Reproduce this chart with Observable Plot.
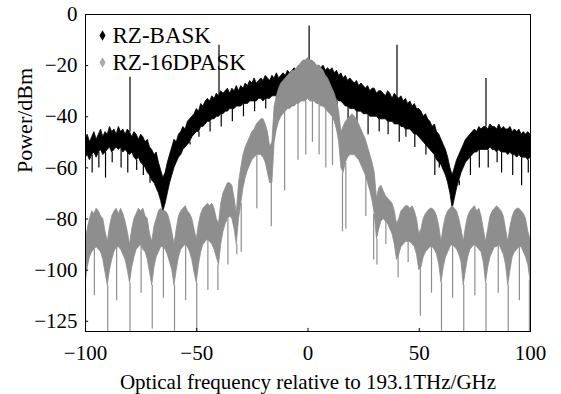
<!DOCTYPE html>
<html>
<head>
<meta charset="utf-8">
<script src="https://cdn.jsdelivr.net/npm/d3@7"></script>
<script src="https://cdn.jsdelivr.net/npm/@observablehq/plot@0.6"></script>
<style>
  html, body { margin: 0; padding: 0; background: #fff; }
  #chart { width: 561px; height: 394px; }
  #chart svg, #chart svg text { font-family: "Liberation Serif", "Times New Roman", serif !important; }
</style>
</head>
<body>
<div id="chart"></div>
<script>
// Frequency grid: -100 .. 100 GHz, 1 GHz step
const freqStart = -100;
const freqStep = 1;

// RZ-BASK dense band: top edge (dBm), f = -100..100
const baskHi = [
  -49,-47,-50,-48,-46,-49,-47,-45,-48,-46,
  -47,-44,-46,-45,-47,-44,-46,-45,-47,-45,
  -46,-48,-46,-47,-49,-47,-48,-50,-49,-52,
  -53,-55,-54,-58,-61,-64,-62,-58,-55,-52,
  -49,-50,-47,-46,-44,-45,-42,-41,-40,-39,
  -37,-38,-35,-36,-34,-33,-34,-32,-33,-31,
  -32,-30,-31,-30,-29,-31,-29,-30,-28,-30,
  -28,-29,-27,-28,-26,-27,-25,-27,-26,-25,
  -26,-24,-25,-26,-24,-25,-23,-25,-24,-23,
  -24,-22,-23,-22,-21,-22,-20,-21,-20,-19,
  -18,-19,-20,-19,-21,-20,-21,-20,-22,-21,
  -22,-21,-23,-22,-24,-23,-25,-24,-26,-25,
  -26,-27,-26,-28,-27,-28,-29,-28,-30,-29,
  -29,-31,-30,-30,-31,-32,-30,-31,-33,-31,
  -32,-33,-32,-34,-33,-35,-34,-36,-35,-37,
  -37,-38,-40,-39,-41,-42,-44,-43,-46,-47,
  -49,-51,-53,-56,-60,-63,-60,-57,-55,-53,
  -51,-49,-48,-47,-46,-45,-46,-44,-45,-44,
  -44,-45,-43,-44,-44,-45,-43,-45,-44,-45,
  -45,-44,-46,-45,-46,-45,-47,-46,-47,-46,
  -47
];
// RZ-BASK dense band: bottom edge (dBm)
const baskLo = [
  -56,-55,-57,-55,-54,-56,-54,-53,-55,-54,
  -53,-52,-54,-53,-52,-53,-52,-54,-53,-54,
  -55,-54,-56,-57,-56,-58,-59,-60,-62,-63,
  -65,-66,-68,-70,-73,-77,-74,-70,-66,-63,
  -60,-58,-56,-55,-53,-52,-51,-50,-48,-47,
  -46,-46,-44,-44,-43,-42,-42,-41,-41,-40,
  -40,-39,-39,-38,-38,-37,-37,-37,-36,-36,
  -36,-35,-35,-35,-34,-34,-34,-34,-33,-33,
  -34,-33,-33,-33,-32,-32,-32,-31,-31,-31,
  -31,-30,-30,-29,-29,-28,-28,-27,-27,-26,
  -26,-27,-27,-28,-28,-29,-29,-30,-30,-31,
  -31,-32,-33,-33,-34,-34,-35,-36,-36,-37,
  -37,-37,-38,-38,-38,-39,-39,-39,-40,-40,
  -40,-40,-41,-41,-41,-41,-42,-42,-42,-43,
  -43,-43,-44,-44,-45,-45,-45,-46,-47,-47,
  -48,-49,-50,-51,-52,-53,-54,-55,-57,-58,
  -59,-61,-63,-66,-70,-76,-72,-68,-65,-62,
  -60,-58,-57,-56,-55,-54,-54,-53,-53,-53,
  -53,-53,-52,-53,-53,-54,-53,-54,-54,-54,
  -55,-54,-55,-55,-56,-55,-56,-56,-56,-57,
  -56
];
// RZ-BASK thin downward spikes: frequency, depth (dBm)
const baskDipF = [-97,-94,-91,-88,-84,-81,-77,-74,-71,-57,-53,-49,-44,-39,-34,-29,-24,-19,-14,13,18,22,27,32,36,41,44,48,53,57,59,68,73,77,81,85,87,92,96,99];
const baskDipV = [-62,-60,-64,-58,-60,-62,-61,-63,-66,-55,-51,-48,-46,-44,-42,-40,-38,-37,-36,-38,-42,-45,-47,-46,-47,-50,-48,-52,-55,-63,-60,-67,-63,-60,-60,-58,-62,-63,-67,-62];
// RZ-BASK thin upward tones
const baskToneF = [-80,-40,0.5,40,80];
const baskToneV = [-24.5,-12,-4.5,-12,-25];

// RZ-16DPASK dense band: top edge (dBm)
const dpaskHi = [
  -89,-84,-80,-77,-78,-76,-77,-79,-80,-85,
  -89,-83,-79,-77,-76,-78,-76,-78,-81,-85,
  -90,-84,-80,-78,-76,-77,-76,-79,-80,-86,
  -89,-83,-80,-77,-76,-77,-77,-78,-81,-85,
  -90,-84,-79,-77,-76,-75,-77,-78,-80,-84,
  -88,-82,-78,-76,-75,-74,-75,-74,-76,-80,
  -82,-74,-70,-68,-66,-66,-67,-72,-78,-66,
  -60,-55,-52,-50,-48,-46,-45,-43,-42,-41,
  -41,-43,-46,-52,-50,-36,-32,-29,-27,-26,
  -25,-24,-23,-22,-22,-21,-20,-19,-18,-18,
  -17,-18,-18,-19,-20,-20,-21,-22,-24,-25,
  -27,-29,-31,-34,-38,-46,-44,-42,-41,-40,
  -39,-40,-41,-43,-45,-47,-49,-52,-55,-58,
  -62,-72,-68,-67,-69,-71,-72,-73,-74,-77,
  -82,-80,-77,-76,-75,-75,-76,-75,-77,-80,
  -86,-84,-80,-78,-77,-76,-76,-77,-79,-83,
  -89,-83,-79,-77,-76,-75,-76,-77,-80,-84,
  -89,-83,-79,-77,-76,-75,-77,-76,-79,-84,
  -89,-84,-79,-77,-76,-75,-76,-77,-79,-84,
  -89,-83,-79,-77,-76,-76,-77,-78,-80,-85,
  -88
];
// RZ-16DPASK dense band: bottom edge (dBm)
const dpaskLo = [
  -106,-99,-95,-93,-92,-91,-92,-93,-96,-101,
  -106,-100,-96,-93,-91,-91,-92,-94,-96,-100,
  -105,-99,-95,-92,-91,-90,-92,-93,-96,-101,
  -106,-99,-95,-93,-91,-91,-92,-94,-97,-100,
  -106,-100,-95,-92,-91,-90,-91,-93,-96,-101,
  -105,-98,-93,-90,-89,-88,-89,-90,-92,-95,
  -98,-90,-85,-82,-80,-79,-80,-84,-90,-80,
  -74,-68,-64,-61,-59,-57,-56,-55,-55,-55,
  -56,-58,-62,-66,-66,-50,-45,-42,-40,-39,
  -38,-37,-37,-36,-36,-35,-35,-34,-34,-34,
  -33,-34,-34,-34,-35,-35,-36,-36,-37,-38,
  -39,-40,-42,-45,-50,-60,-62,-58,-56,-55,
  -55,-55,-56,-57,-59,-61,-63,-66,-69,-73,
  -78,-88,-84,-81,-80,-81,-82,-84,-86,-90,
  -96,-94,-91,-90,-89,-89,-89,-90,-91,-94,
  -100,-99,-95,-93,-92,-91,-91,-92,-94,-98,
  -105,-99,-95,-93,-91,-90,-91,-92,-94,-97,
  -106,-100,-95,-92,-91,-90,-91,-92,-93,-97,
  -105,-99,-95,-93,-91,-91,-90,-92,-94,-98,
  -106,-100,-95,-93,-92,-91,-91,-93,-95,-98,
  -104
];
// RZ-16DPASK thin downward spikes
const dpaskDipF = [-100,-96,-90,-86,-80,-75,-70,-65,-60,-55,-50,-45,-40.5,-36,-32,-30,-23,-16.5,-10.5,-4.5,-1,2,5,8,11,15.5,17,26,29.5,31,35,40.5,45,50.5,55.5,60,65,70,75,80,85.5,90,95,99.5];
const dpaskDipV = [-123,-110,-124,-112,-124,-109,-123,-111,-124,-112,-124,-108,-108,-98,-94,-93,-76,-83,-69,-57,-55,-50,-55,-60,-59,-85,-84,-79,-96,-98,-90,-103,-97,-118,-109,-124,-111,-124,-110,-124,-109,-124,-112,-124];

// axis ticks
const xTicks = [-100, -50, 0, 50, 100];
const yTicks = [0, -20, -40, -60, -80, -100, -120];
const yTickLabels = ["0", "−20", "−40", "−60", "−80", "−100", "−125"];

const seriesNames = ["RZ-BASK", "RZ-16DPASK"];
const seriesColors = ["#000000", "#8e8e8e"];

const idx = f => Math.max(0, Math.min(baskHi.length - 1, Math.round((f - freqStart) / freqStep)));
const band = (hi, lo) => hi.map((h, i) => ({f: freqStart + i * freqStep, hi: h, lo: lo[i]}));
const baskBand = band(baskHi, baskLo);
const dpaskBand = band(dpaskHi, dpaskLo);
const baskDips = baskDipF.map((f, i) => ({f, v: baskDipV[i], base: baskLo[idx(f)]}));
const baskTones = baskToneF.map((f, i) => ({f, v: baskToneV[i], base: baskHi[idx(f)]}));
const dpaskDips = dpaskDipF.map((f, i) => ({f, v: dpaskDipV[i], base: dpaskLo[idx(f)]}));

const font = "Liberation Serif";

const chart = Plot.plot({
  width: 561,
  height: 394,
  marginLeft: 85,
  marginRight: 31,
  marginTop: 14,
  marginBottom: 63,
  style: {fontFamily: font, fontSize: "21px", color: "#000", background: "#fff"},
  x: {domain: [-100, 100], ticks: xTicks, tickSize: 0, tickPadding: 14, tickFormat: d => d < 0 ? "−" + Math.abs(d) : String(d), label: null},
  y: {domain: [-124, 0], ticks: yTicks, tickSize: 0, tickPadding: 8, tickFormat: d => yTickLabels[yTicks.indexOf(d)], label: null},
  marks: [
    Plot.areaY(baskBand, {x: "f", y1: "lo", y2: "hi", fill: seriesColors[0], stroke: seriesColors[0], strokeWidth: 0.8, clip: true}),
    Plot.ruleX(baskDips, {x: "f", y1: "v", y2: "base", stroke: seriesColors[0], strokeWidth: 1.2, clip: true}),
    Plot.ruleX(baskTones, {x: "f", y1: "base", y2: "v", stroke: seriesColors[0], strokeWidth: 1.2, clip: true}),
    Plot.areaY(dpaskBand, {x: "f", y1: "lo", y2: "hi", fill: seriesColors[1], stroke: seriesColors[1], strokeWidth: 0.8, clip: true}),
    Plot.ruleX(dpaskDips, {x: "f", y1: "v", y2: "base", stroke: seriesColors[1], strokeWidth: 1.2, clip: true}),
    Plot.frame({stroke: "#000", strokeWidth: 1}),
    Plot.ruleX(xTicks, {x: d => d, y1: -124, y2: -122.8, stroke: "#000"}),
    Plot.ruleY(yTicks, {y: d => d, x1: -100, x2: -98.6, stroke: "#000"}),
    Plot.dot([0], {frameAnchor: "top-left", dx: 17, dy: 21, symbol: "diamond", r: 3.2, fill: seriesColors[0], stroke: null}),
    Plot.dot([0], {frameAnchor: "top-left", dx: 17, dy: 48, symbol: "diamond", r: 3.2, fill: "#aaaaaa", stroke: null}),
    Plot.text([seriesNames[0]], {frameAnchor: "top-left", dx: 27, dy: 21, text: d => d, textAnchor: "start", lineAnchor: "middle", fontSize: 23, fontFamily: font, fill: "#000"}),
    Plot.text([seriesNames[1]], {frameAnchor: "top-left", dx: 27, dy: 48, text: d => d, textAnchor: "start", lineAnchor: "middle", fontSize: 23, fontFamily: font, fill: "#000"}),
    Plot.text(["Optical frequency relative to 193.1THz/GHz"], {frameAnchor: "bottom", dy: 51, text: d => d, lineAnchor: "middle", fontSize: 21, fontFamily: font, fill: "#000"}),
    Plot.text(["Power/dBm"], {frameAnchor: "left", dx: -61, text: d => d, rotate: -90, lineAnchor: "middle", fontSize: 22, fontFamily: font, fill: "#000"})
  ]
});
document.getElementById("chart").appendChild(chart);
</script>
</body>
</html>
